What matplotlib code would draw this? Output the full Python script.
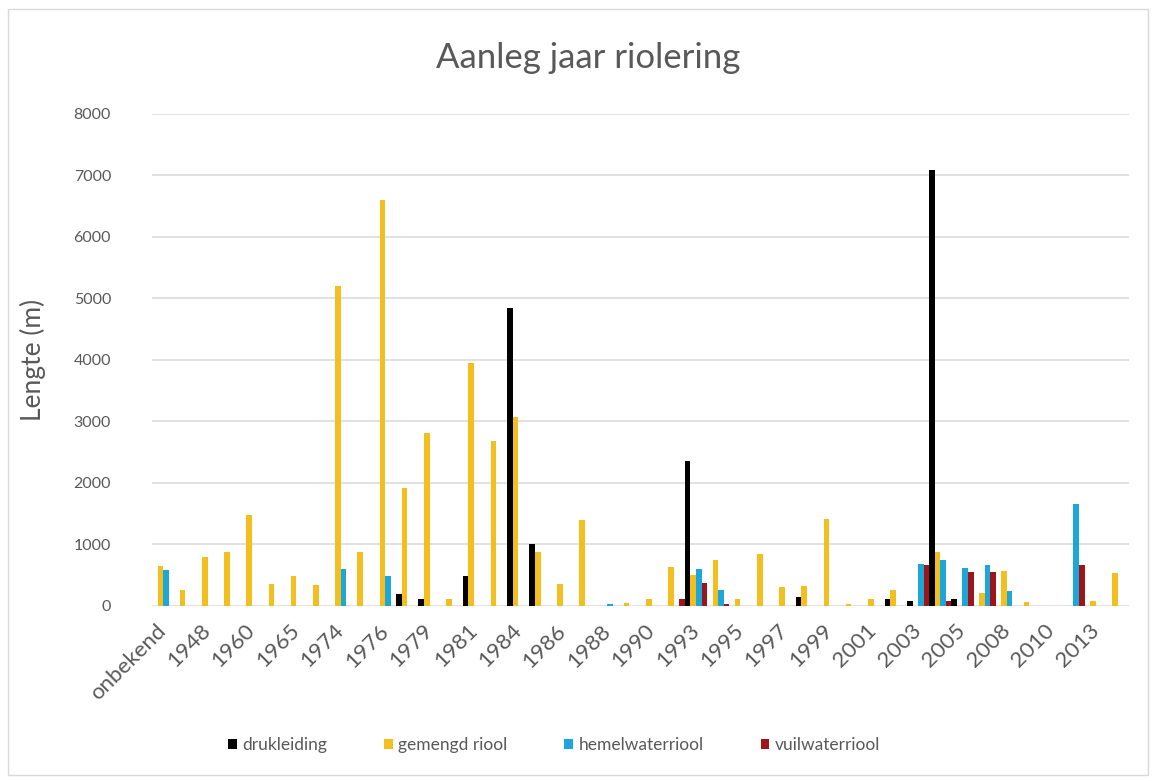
import matplotlib
matplotlib.use("Agg")
import matplotlib.pyplot as plt
import numpy as np
from matplotlib.patches import Rectangle

categories = ["onbekend", "1930", "1948", "1950", "1960", "1962", "1965", "1970",
              "1974", "1975", "1976", "1977", "1979", "1980", "1981", "1982",
              "1984", "1985", "1986", "1987", "1988", "1989", "1990", "1992",
              "1993", "1994", "1995", "1996", "1997", "1998", "1999", "2000",
              "2001", "2002", "2003", "2004", "2005", "2007", "2008", "2009",
              "2010", "2012", "2013", "2014"]

drukleiding = [0, 0, 0, 0, 0, 0, 0, 0,
               0, 0, 0, 190, 110, 0, 480, 0,
               4840, 1000, 0, 0, 0, 0, 0, 0,
               2350, 0, 0, 0, 0, 140, 0, 0,
               0, 110, 80, 7080, 110, 0, 0, 0,
               0, 0, 0, 0]
gemengd_riool = [640, 250, 790, 870, 1470, 350, 480, 340,
                 5190, 870, 6590, 1910, 2800, 110, 3940, 2670,
                 3060, 870, 350, 1390, 0, 40, 110, 630,
                 500, 740, 110, 840, 300, 320, 1410, 30,
                 110, 260, 0, 870, 0, 200, 560, 60,
                 0, 0, 80, 530]
hemelwaterriool = [580, 0, 0, 0, 0, 0, 0, 0,
                   590, 0, 480, 0, 0, 0, 0, 0,
                   0, 0, 0, 0, 30, 0, 0, 0,
                   600, 260, 0, 0, 0, 0, 0, 0,
                   0, 0, 680, 740, 610, 660, 240, 0,
                   0, 1650, 0, 0]
vuilwaterriool = [0, 0, 0, 0, 0, 0, 0, 0,
                  0, 0, 0, 0, 0, 0, 0, 0,
                  0, 0, 0, 0, 0, 0, 0, 110,
                  370, 25, 0, 0, 0, 0, 0, 0,
                  0, 0, 660, 80, 550, 540, 0, 0,
                  0, 660, 0, 0]

series_names = ["drukleiding", "gemengd riool", "hemelwaterriool", "vuilwaterriool"]
series_values = [drukleiding, gemengd_riool, hemelwaterriool, vuilwaterriool]
colors = ["#000000", "#F2BF1F", "#1CA6D9", "#9E1519"]

title = "Aanleg jaar riolering"
ylabel = "Lengte (m)"
yticks = [0, 1000, 2000, 3000, 4000, 5000, 6000, 7000, 8000]

plt.rcParams['font.family'] = ['Lato', 'DejaVu Sans']
text_color = "#595959"

fig = plt.figure(figsize=(11.56, 7.81), dpi=100)
ax = fig.add_axes([152/1156, 175.5/781, 977/1156, 492/781])

x = np.arange(len(categories))
w = 0.25
offsets = [-1.5*w, -0.5*w, 0.5*w, 1.5*w]
handles = []
for name, vals, col, off in zip(series_names, series_values, colors, offsets):
    h = ax.bar(x + off, vals, width=w, color=col, label=name, zorder=3)
    handles.append(h)

ax.set_xlim(-0.5, len(categories) - 0.5)
ax.set_ylim(0, 8000)
ax.set_yticks(yticks)
ax.set_yticklabels([str(v) for v in yticks], fontsize=11.5, color=text_color)
ax.yaxis.grid(True, color="#D9D9D9", linewidth=1.1, zorder=0)
ax.set_axisbelow(True)
for s in ax.spines.values():
    s.set_visible(False)
ax.tick_params(axis='both', length=0)
ax.tick_params(axis='y', pad=29.5)

ax.set_xticks(x[::2])
ax.set_xticklabels(categories[::2], rotation=45, ha='right', va='center',
                   rotation_mode='anchor', fontsize=16, color=text_color)
ax.tick_params(axis='x', pad=16)

fig.text(33/1156, 1 - 360/781, ylabel, rotation=90, ha='center', va='center',
         fontsize=19, color=text_color)

fig.text(588/1156, 1 - 58/781, title, ha='center', va='center', fontsize=25,
         color=text_color)

fig.legend(handles=handles, labels=series_names, loc='center',
           bbox_to_anchor=(554/1156, 1 - 745/781), ncol=4, frameon=False,
           handlelength=0.5, handleheight=0.5, handletextpad=0.3,
           columnspacing=3.3, fontsize=12.5, labelcolor=text_color)

fig.patches.append(Rectangle((8/1156, 6/781), 1140/1156, 766/781, transform=fig.transFigure,
                             fill=False, edgecolor="#D9D9D9", linewidth=1))

fig.savefig("out.png", dpi=100)
